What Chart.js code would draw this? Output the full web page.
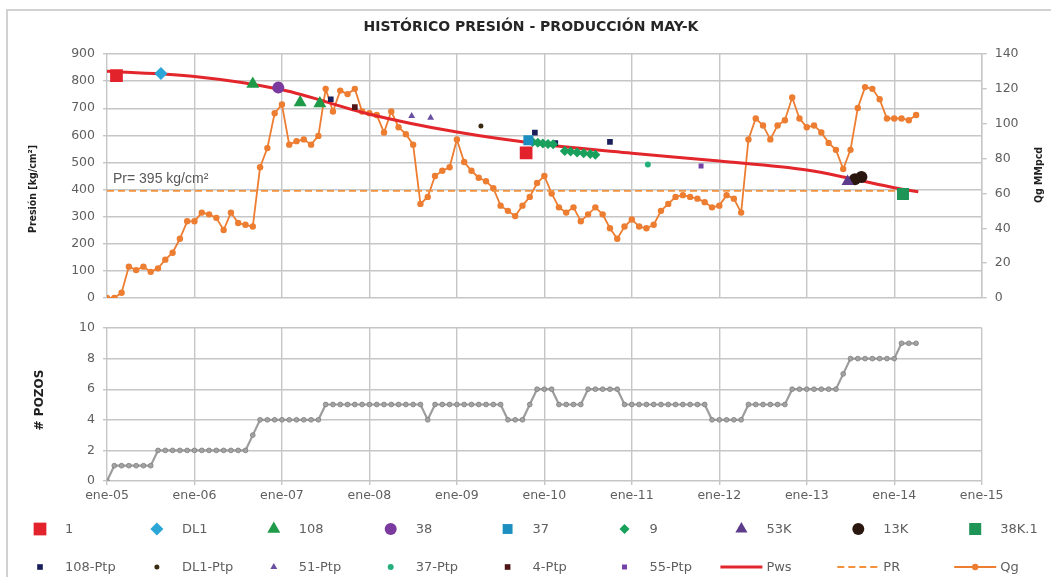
<!DOCTYPE html>
<html>
<head>
<meta charset="utf-8">
<script src="https://cdn.jsdelivr.net/npm/chart.js@4.4.1/dist/chart.umd.min.js"></script>
<style>
  html, body { margin: 0; padding: 0; background: #fff; overflow: hidden; }
  #frame { position: absolute; left: 6px; top: 9px; width: 1100px; height: 650px;
           border: 2px solid #d2d2d2; box-sizing: border-box; }
  canvas { position: absolute; left: 0; top: 0; }
</style>
</head>
<body>
<div id="frame"></div>
<canvas id="presion" width="1051" height="577"></canvas>
<canvas id="pozos" width="1051" height="577"></canvas>
<script>
// ---- Data (x = months counted from ene-05) ----
const chartTitle = 'HISTÓRICO PRESIÓN - PRODUCCIÓN MAY-K';
const tickLabels = ['ene-05', 'ene-06', 'ene-07', 'ene-08', 'ene-09', 'ene-10',
                    'ene-11', 'ene-12', 'ene-13', 'ene-14', 'ene-15'];

// Monthly gas rate, MMpcd
const qgMonthly = [
  0, 0, 3, 18, 16, 18, 15, 17, 22, 26, 34, 44,
  44, 49, 48, 46, 39, 49, 43, 42, 41, 75, 86, 106,
  111, 88, 90, 91, 88, 93, 120, 107, 119, 117, 120, 107,
  106, 105, 95, 107, 98, 94, 88, 54, 58, 70, 73, 75,
  91, 78, 73, 69, 67, 63, 53, 50, 47, 53, 58, 66,
  70, 60, 52, 49, 52, 44, 48, 52, 48, 40, 34, 41,
  45, 41, 40, 42, 50, 54, 58, 59, 58, 57, 55, 52,
  53, 59, 57, 49, 91, 103, 99, 91, 99, 102, 115, 103,
  98, 99, 95, 89, 85, 74, 85, 109, 121, 120, 114, 103,
  103, 103, 102, 105
];

// Producing wells per month
const pozosMonthly = [
  0, 1, 1, 1, 1, 1, 1, 2, 2, 2, 2, 2,
  2, 2, 2, 2, 2, 2, 2, 2, 3, 4, 4, 4,
  4, 4, 4, 4, 4, 4, 5, 5, 5, 5, 5, 5,
  5, 5, 5, 5, 5, 5, 5, 5, 4, 5, 5, 5,
  5, 5, 5, 5, 5, 5, 5, 4, 4, 4, 5, 6,
  6, 6, 5, 5, 5, 5, 6, 6, 6, 6, 6, 5,
  5, 5, 5, 5, 5, 5, 5, 5, 5, 5, 5, 4,
  4, 4, 4, 4, 5, 5, 5, 5, 5, 5, 6, 6,
  6, 6, 6, 6, 6, 7, 8, 8, 8, 8, 8, 8,
  8, 9, 9, 9
];

// Static pressure trend (Pws) and reservoir pressure (PR), kg/cm2
const pwsMonths = [0, 12, 24, 36, 48, 60, 72, 84, 96, 102, 108, 111.3];
const pwsValues = [836, 817, 768, 678, 612, 566, 534, 505, 472, 441, 407, 392];
const prValue = 395;
const prMonths = [0, 111.3];
const prLabel = 'Pr= 395 kg/cm²';

// Pressure measurements per well: [month, kg/cm2]
const pozo1     = [[1.3, 820], [57.5, 535]];
const pozoDL1   = [[7.4, 828]];
const pozo108   = [[20, 789], [26.5, 721], [29.2, 717]];
const pozo38    = [[23.5, 776]];
const pozo37    = [[57.8, 582]];
const pozo9     = [[58.4, 575], [59.1, 573], [59.8, 570], [60.5, 568], [61.2, 567],
                   [62.8, 542], [63.6, 540], [64.5, 537], [65.4, 534], [66.3, 531], [67, 528]];
const pozo53K   = [[101.6, 430]];
const pozo13K   = [[102.6, 438], [103.5, 446]];
const pozo38K1  = [[109.2, 384]];
const ptp108    = [[30.7, 733], [58.7, 610], [61.5, 571], [69, 576]];
const ptpDL1    = [[51.3, 634]];
const ptp51     = [[41.8, 671], [44.4, 665]];
const ptp37     = [[74.2, 492]];
const ptp4      = [[34, 704]];
const ptp55     = [[81.5, 487]];

// ---- Helpers ----
const pts = arr => arr.map(([x, y]) => ({ x, y }));
const series = arr => arr.map((y, i) => ({ x: i, y }));
const zip = (xs, ys) => xs.map((x, i) => ({ x, y: ys[i] }));

const GRID = '#c6c6c6';
const TICK_COLOR = '#5f5f5f';
const TICK_FONT = { family: '"DejaVu Sans", Arial, sans-serif', size: 12.5 };
const AXIS_TITLE_FONT = '"DejaVu Sans Condensed", "Liberation Sans Narrow", "DejaVu Sans", Arial, sans-serif';

function marker(label, data, color, style, radius) {
  return {
    label, data: pts(data), pointStyle: style, pointRadius: radius,
    pointBackgroundColor: color, pointBorderColor: color, pointBorderWidth: 0,
    backgroundColor: color, borderColor: color, showLine: false, yAxisID: 'y', order: 0
  };
}

const datasets = [
  marker('1',      pozo1,    '#E2232B', 'rect',     9),
  marker('DL1',    pozoDL1,  '#2BA6D6', 'rectRot',  6.5),
  marker('108',    pozo108,  '#1E9A48', 'triangle', 7.5),
  marker('38',     pozo38,   '#7A3A9E', 'circle',   6),
  marker('37',     pozo37,   '#1C8FC0', 'rect',     7),
  marker('9',      pozo9,    '#18A05C', 'rectRot',  5),
  marker('53K',    pozo53K,  '#5E3C8C', 'triangle', 7),
  marker('13K',    pozo13K,  '#2A1710', 'circle',   6),
  marker('38K.1',  pozo38K1, '#1E9556', 'rect',     8.5),
  marker('108-Ptp', ptp108,  '#1A1F5C', 'rect',     4),
  marker('DL1-Ptp', ptpDL1,  '#3B2A12', 'circle',   2.5),
  marker('51-Ptp',  ptp51,   '#6A4FA2', 'triangle', 4),
  marker('37-Ptp',  ptp37,   '#23B07C', 'circle',   3),
  marker('4-Ptp',   ptp4,    '#4E1616', 'rect',     4),
  marker('55-Ptp',  ptp55,   '#7442A6', 'rect',     3.5),
  {
    label: 'Pws', data: zip(pwsMonths, pwsValues), showLine: true,
    borderColor: '#E3262C', backgroundColor: '#E3262C', borderWidth: 3,
    pointRadius: 0, cubicInterpolationMode: 'monotone', yAxisID: 'y', order: 1
  },
  {
    label: 'PR', data: prMonths.map(x => ({ x, y: prValue })), showLine: true,
    borderColor: '#F2923C', backgroundColor: '#F2923C', borderWidth: 1.8,
    borderDash: [7, 4], pointRadius: 0, yAxisID: 'y', order: 2
  },
  {
    label: 'Qg', data: series(qgMonthly), showLine: true,
    borderColor: '#ED7D31', backgroundColor: '#ED7D31', borderWidth: 1.8,
    pointRadius: 3.2, pointStyle: 'circle', pointBackgroundColor: '#ED7D31',
    pointBorderWidth: 0, tension: 0, yAxisID: 'y1', order: 3
  }
];

function drawRotated(ctx, text, x, y, font) {
  ctx.save();
  ctx.translate(x, y);
  ctx.rotate(-Math.PI / 2);
  ctx.font = font;
  ctx.textAlign = 'center';
  ctx.textBaseline = 'middle';
  ctx.fillText(text, 0, 0);
  ctx.restore();
}

function drawSymbol(ctx, ds, x, y) {
  ctx.save();
  ctx.fillStyle = ds.pointBackgroundColor || ds.backgroundColor;
  ctx.strokeStyle = ds.borderColor;
  Chart.helpers.drawPoint(ctx, {
    pointStyle: ds.pointStyle || 'circle', radius: ds.pointRadius,
    rotation: 0, borderWidth: 0
  }, x, y);
  ctx.restore();
}

// Title, axis titles, PR annotation and the two-row legend
const decorations = {
  id: 'decorations',
  afterDraw(chart) {
    const ctx = chart.ctx;
    const xs = chart.scales.x, ys = chart.scales.y;
    ctx.save();
    ctx.fillStyle = '#262626';
    ctx.font = 'bold 14px "DejaVu Sans", Arial, sans-serif';
    ctx.textAlign = 'center';
    ctx.textBaseline = 'middle';
    ctx.fillText(chartTitle, 531, 27);

    ctx.fillStyle = '#1f1f1f';
    drawRotated(ctx, 'Presión [kg/cm²]', 33, 189, 'bold 10.5px ' + AXIS_TITLE_FONT);
    drawRotated(ctx, 'Qg MMpcd', 1039, 175, 'bold 10.5px ' + AXIS_TITLE_FONT);
    drawRotated(ctx, '# POZOS', 40, 400, 'bold 12px "DejaVu Sans", Arial, sans-serif');

    ctx.fillStyle = '#595959';
    ctx.font = '14px "Liberation Sans", Arial, sans-serif';
    ctx.textAlign = 'left';
    ctx.fillText(prLabel, xs.getPixelForValue(0) + 6, ys.getPixelForValue(prValue) - 12);

    // legend: 9 columns x 2 rows
    const ds = chart.data.datasets;
    ctx.font = '13px "DejaVu Sans", Arial, sans-serif';
    ds.forEach((d, i) => {
      const col = i % 9, row = Math.floor(i / 9);
      const cx = 40 + col * 116.9;
      const cy = row === 0 ? 529 : 567;
      if (d.showLine) {
        ctx.save();
        ctx.strokeStyle = d.borderColor;
        ctx.lineWidth = d.borderWidth;
        ctx.setLineDash(d.borderDash || []);
        ctx.beginPath();
        ctx.moveTo(cx - 21, cy);
        ctx.lineTo(cx + 21, cy);
        ctx.stroke();
        ctx.restore();
        if (d.pointRadius > 0) drawSymbol(ctx, d, cx, cy);
      } else {
        drawSymbol(ctx, d, cx, cy);
      }
      ctx.fillStyle = '#5f5f5f';
      ctx.textAlign = 'left';
      ctx.textBaseline = 'middle';
      ctx.fillText(d.label, cx + 25, cy + 1);
    });
    ctx.restore();
  }
};

new Chart(document.getElementById('presion'), {
  type: 'scatter',
  data: { datasets },
  options: {
    responsive: false,
    animation: false,
    events: [],
    layout: { padding: { left: 7, right: 0, top: 54, bottom: 279 } },
    plugins: { legend: { display: false }, tooltip: { enabled: false }, title: { display: false } },
    scales: {
      x: {
        type: 'linear', min: 0, max: 120,
        ticks: { stepSize: 12, display: false },
        grid: { color: GRID, lineWidth: 1.4, drawTicks: false },
        border: { display: false },
        afterFit(s) { s.height = 0; }
      },
      y: {
        position: 'left', min: 0, max: 900,
        ticks: { stepSize: 100, color: TICK_COLOR, font: TICK_FONT, padding: 8 },
        grid: { color: GRID, lineWidth: 1.4, tickLength: 4 },
        border: { display: false },
        afterFit(s) { s.width = 100; }
      },
      y1: {
        position: 'right', min: 0, max: 140,
        ticks: { stepSize: 20, color: TICK_COLOR, font: TICK_FONT, padding: 8 },
        grid: { drawOnChartArea: false, color: GRID, lineWidth: 1.4, tickLength: 5 },
        border: { display: true, color: GRID, width: 1.4 },
        afterFit(s) { s.width = 69.3; }
      }
    }
  },
  plugins: [decorations]
});

new Chart(document.getElementById('pozos'), {
  type: 'line',
  data: {
    datasets: [{
      label: '# POZOS', data: series(pozosMonthly),
      borderColor: '#9d9d9d', borderWidth: 2.2, tension: 0,
      pointRadius: 2.4, pointBackgroundColor: '#a3a3a3',
      pointBorderColor: '#7f7f7f', pointBorderWidth: 0.8
    }]
  },
  options: {
    responsive: false,
    animation: false,
    events: [],
    layout: { padding: { left: 7, right: 69.3, top: 328, bottom: 67 } },
    plugins: { legend: { display: false }, tooltip: { enabled: false } },
    scales: {
      x: {
        type: 'linear', min: 0, max: 120,
        ticks: {
          stepSize: 12, color: TICK_COLOR, font: TICK_FONT, padding: 3,
          maxRotation: 0, autoSkip: false,
          callback: v => tickLabels[v / 12]
        },
        grid: { color: GRID, lineWidth: 1.4, tickLength: 4 },
        border: { display: false },
        afterFit(s) { s.height = 29; }
      },
      y: {
        min: 0, max: 10,
        ticks: { stepSize: 2, color: TICK_COLOR, font: TICK_FONT, padding: 8 },
        grid: { color: GRID, lineWidth: 1.4, tickLength: 4 },
        border: { display: false },
        afterFit(s) { s.width = 100; }
      }
    }
  }
});
</script>
</body>
</html>
